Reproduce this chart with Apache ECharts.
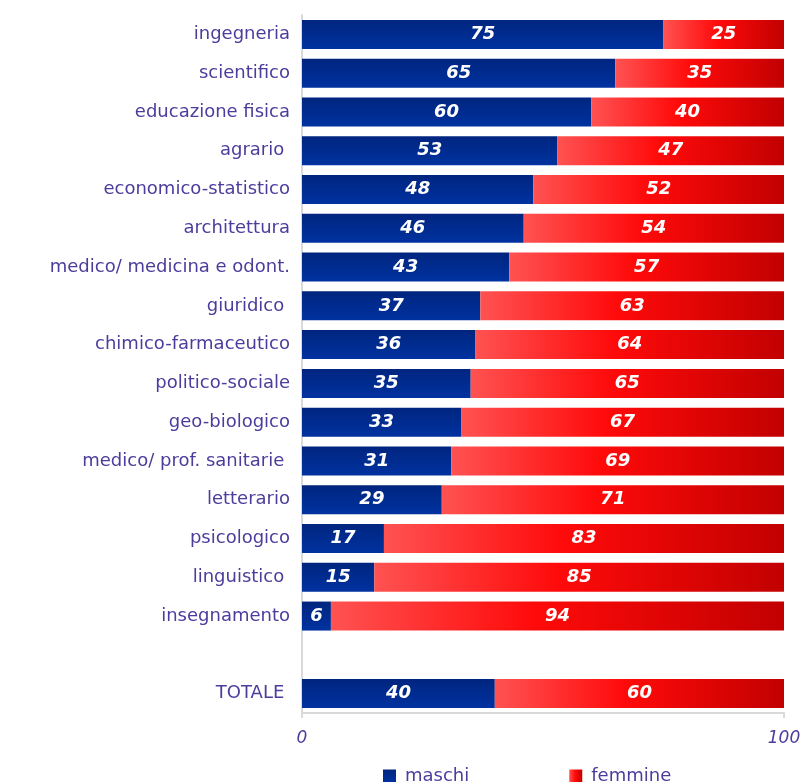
<!DOCTYPE html>
<html>
<head>
<meta charset="utf-8">
<script src="https://cdn.jsdelivr.net/npm/echarts@6/dist/echarts.min.js"></script>
<style>
html,body{margin:0;padding:0;background:#fff;}
#chart{width:807px;height:782px;}
</style>
</head>
<body>
<div id="chart"></div>
<script>
const categories = ['ingegneria','scientifico','educazione fisica','agrario ','economico-statistico','architettura','medico/ medicina e odont.','giuridico ','chimico-farmaceutico','politico-sociale','geo-biologico','medico/ prof. sanitarie ','letterario','psicologico','linguistico ','insegnamento','','TOTALE '];
const maschi = [75,65,60,53,48,46,43,37,36,35,33,31,29,17,15,6,null,40];
const femmine = [25,35,40,47,52,54,57,63,64,65,67,69,71,83,85,94,null,60];
const xTicks = [0,100];

const textColor = '#4b3d9c';
const font = 'DejaVu Sans';

const blueGrad = new echarts.graphic.LinearGradient(0,0,0,1,[
  {offset:0,color:'#00257f'},{offset:1,color:'#0032a0'}
]);
const redGrad = new echarts.graphic.LinearGradient(0,0,1,0,[
  {offset:0,color:'#ff5252'},{offset:0.45,color:'#ff0a0a'},{offset:1,color:'#c20000'}
]);

const barLabel = {
  show:true, position:'inside', color:'#fff', fontFamily:font,
  fontWeight:'bold', fontStyle:'italic', fontSize:18
};

const chart = echarts.init(document.getElementById('chart'));
chart.setOption({
  animation:false,
  backgroundColor:'#fff',
  grid:{left:302,right:23,top:15,bottom:69,containLabel:false},
  legend:{
    top:762, left:378, itemWidth:13, itemHeight:13, itemGap:100, icon:'rect',
    textStyle:{color:textColor,fontFamily:font,fontSize:18,padding:[0,0,0,4]},
    data:['maschi','femmine']
  },
  xAxis:{
    type:'value', min:xTicks[0], max:xTicks[1], interval:100,
    axisLine:{show:true,lineStyle:{color:'#d9d9d9',width:2}},
    axisTick:{show:true,length:5,lineStyle:{color:'#d9d9d9',width:2}},
    splitLine:{show:false},
    axisLabel:{color:textColor,fontFamily:font,fontStyle:'italic',fontSize:17,margin:17}
  },
  yAxis:{
    type:'category', inverse:true, data:categories,
    axisLine:{show:true,lineStyle:{color:'#d9d9d9',width:2}},
    axisTick:{show:false},
    axisLabel:{color:textColor,fontFamily:font,fontSize:18,margin:12}
  },
  series:[
    {name:'maschi',type:'bar',stack:'t',data:maschi,barWidth:29,
     itemStyle:{color:blueGrad},label:barLabel},
    {name:'femmine',type:'bar',stack:'t',data:femmine,barWidth:29,
     itemStyle:{color:redGrad},label:barLabel}
  ]
});
</script>
</body>
</html>
